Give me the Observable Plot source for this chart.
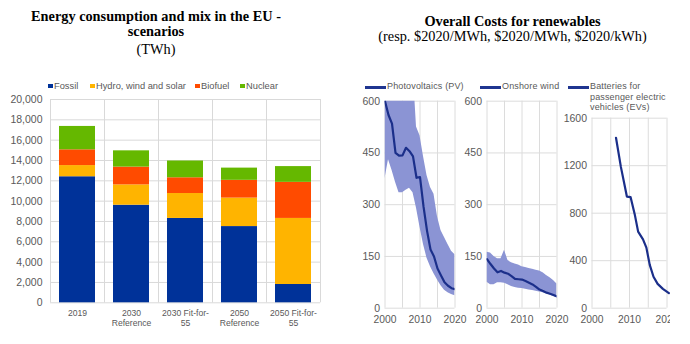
<!DOCTYPE html>
<html><head><meta charset="utf-8">
<script src="https://cdn.jsdelivr.net/npm/d3@7"></script>
<script src="https://cdn.jsdelivr.net/npm/@observablehq/plot@0.6"></script>
<style>
body{margin:0;background:#fff;}
#root{position:relative;width:690px;height:344px;overflow:hidden;font-family:"Liberation Sans",Arial,sans-serif;background:#fff;}
.abs{position:absolute;white-space:nowrap;}
.ttl{font-family:"Liberation Serif","Times New Roman",serif;font-size:14.3px;line-height:14px;color:#000;text-align:center;}
.leg{font-size:9.3px;line-height:12px;color:#595959;}
.sq{position:absolute;width:4.5px;height:4.5px;}
.sw{position:absolute;height:2.5px;background:#1f3590;}
svg{overflow:hidden;}
</style></head><body><div id="root"></div>
<script>
// ---------- data: energy mix ----------
const scenarios = ["2019", "2030 Reference", "2030 Fit-for-55", "2050 Reference", "2050 Fit-for-55"];
const scenarioLabels = ["2019", "2030\nReference", "2030 Fit-for-\n55", "2050\nReference", "2050 Fit-for-\n55"];
const sources = ["Fossil", "Hydro, wind and solar", "Biofuel", "Nuclear"];
const sourceColors = ["#003299", "#ffb400", "#ff4b00", "#65b800"];
const fossil = [12400, 9600, 8300, 7500, 1800];
const renewables = [1100, 2000, 2450, 2800, 6500];
const biofuel = [1550, 1750, 1550, 1750, 3550];
const nuclear = [2300, 1600, 1650, 1200, 1550];
const energyTicks = [0, 2000, 4000, 6000, 8000, 10000, 12000, 14000, 16000, 18000, 20000];

// ---------- data: costs ----------
const years = [2000, 2001, 2002, 2003, 2004, 2005, 2006, 2007, 2008, 2009, 2010, 2011, 2012, 2013, 2014, 2015, 2016, 2017, 2018, 2019, 2020];
const pvCost = [600, 560, 535, 450, 442, 443, 465, 455, 440, 378, 380, 295, 225, 170, 150, 115, 95, 75, 65, 58, 55];
const pvLow  = [375, 430, 400, 365, 335, 335, 342, 348, 335, 290, 235, 185, 145, 120, 100, 82, 65, 52, 45, 40, 36];
const pvHigh = [700, 700, 700, 700, 700, 700, 700, 700, 700, 525, 500, 440, 385, 350, 330, 265, 225, 205, 185, 165, 155];
const windCost = [142, 128, 115, 104, 108, 103, 100, 93, 85, 84, 83, 79, 74, 69, 62, 54, 50, 45, 42, 38, 34];
const windLow  = [75, 68, 68, 74, 74, 72, 68, 63, 60, 58, 57, 55, 53, 51, 49, 47, 45, 42, 38, 34, 30];
const windHigh = [162, 160, 150, 143, 143, 168, 138, 132, 128, 125, 120, 118, 115, 113, 110, 108, 103, 95, 88, 80, 70];
const batteryYears = [2006.4, 2007.7, 2008.6, 2009.3, 2010.3, 2011.4, 2012.3, 2013.6, 2014.5, 2015.4, 2016.4, 2017.5, 2018.9, 2020.5];
const batteryCost = [1435, 1190, 1050, 940, 935, 790, 645, 580, 510, 365, 265, 205, 163, 127];
const yearTicks = [2000, 2010, 2020];
const yearGrid = [2000, 2005, 2010, 2015, 2020];
const pvTicks = [0, 150, 300, 450, 600];
const batteryTicks = [0, 400, 800, 1200, 1600];

const root = document.getElementById("root");
function addDiv(cls, css, html) {
  const d = document.createElement("div");
  d.className = cls;
  d.style.cssText = css;
  d.innerHTML = html;
  root.appendChild(d);
  return d;
}
function place(node, left, top) {
  node.style.position = "absolute";
  node.style.left = left + "px";
  node.style.top = top + "px";
  root.appendChild(node);
}

// ---------- titles ----------
addDiv("abs ttl", "left:0;width:312px;top:8.5px;font-weight:bold;", "Energy consumption and mix in the EU -");
addDiv("abs ttl", "left:0;width:312px;top:23.5px;font-weight:bold;", "scenarios");
addDiv("abs ttl", "left:0;width:312px;top:41.5px;", "(TWh)");
addDiv("abs ttl", "left:345px;width:335px;top:13.5px;font-weight:bold;", "Overall Costs for renewables");
addDiv("abs ttl", "left:345px;width:335px;top:28.5px;", "(resp. $2020/MWh, $2020/MWh, $2020/kWh)");

// ---------- left legend ----------
const legX = [48, 90, 195, 240];
sources.forEach((s, i) => {
  const d = addDiv("abs leg", `left:${legX[i]}px;top:80px;padding-left:6px;`, s);
  const q = document.createElement("div");
  q.className = "sq";
  q.style.cssText = `left:0;top:3.8px;background:${sourceColors[i]};`;
  d.appendChild(q);
});

// ---------- left chart ----------
const series = [fossil, renewables, biofuel, nuclear];
const rows = [];
scenarios.forEach((sc, i) => series.forEach((arr, j) => rows.push({scenario: sc, source: sources[j], value: arr[i]})));

const left = Plot.plot({
  width: 345, height: 245,
  marginLeft: 50, marginRight: 25, marginTop: 9, marginBottom: 32.7,
  style: {background: "transparent", fontFamily: "Liberation Sans, Arial, sans-serif", color: "#595959", overflow: "hidden"},
  x: {type: "band", domain: scenarios, paddingInner: 1/3, paddingOuter: 1/6},
  y: {domain: [0, 20000]},
  color: {domain: sources, range: sourceColors},
  marks: [
    Plot.ruleY(energyTicks, {stroke: "#d9d9d9", strokeWidth: 1}),
    Plot.ruleX(scenarios, {x: d => d, dx: -27, stroke: "#d9d9d9"}),
    Plot.ruleX(scenarios, {x: d => d, dx: 27, stroke: "#d9d9d9"}),
    Plot.barY(rows, {x: "scenario", y: "value", fill: "source"}),
    Plot.axisY({ticks: energyTicks, tickFormat: d3.format(","), tickSize: 0, tickPadding: 8, fontSize: 10.5, label: null, fill: "#595959"}),
    Plot.axisX({tickFormat: d => scenarioLabels[scenarios.indexOf(d)], tickSize: 0, tickPadding: 6, fontSize: 8.6, lineHeight: 1.2, label: null, fill: "#595959"})
  ]
});
place(left, 0, 90);

// ---------- right legends ----------
function lineLegend(x, width, label, textLeft) {
  const s = document.createElement("div");
  s.className = "sw";
  s.style.left = x + "px";
  s.style.top = "86px";
  s.style.width = width + "px";
  root.appendChild(s);
  addDiv("abs leg", `left:${textLeft}px;top:81px;font-size:9px;line-height:10.5px;letter-spacing:0.15px;`, label);
}
lineLegend(365, 21, "Photovoltaics (PV)", 387);
lineLegend(480, 21, "Onshore wind", 502);
lineLegend(568, 21, "Batteries for<br>passenger electric<br>vehicles (EVs)", 590);

// ---------- right panels ----------
function panel({data, yDomain, yTicks, marginTop, width, marginRight, withBand, xKey}) {
  return Plot.plot({
    width, height: 235,
    marginLeft: 39.5, marginRight, marginTop, marginBottom: 22.3,
    style: {background: "transparent", fontFamily: "Liberation Sans, Arial, sans-serif", color: "#595959", overflow: "hidden"},
    x: {domain: [2000, 2020]},
    y: {domain: yDomain},
    marks: [
      Plot.ruleY(yTicks, {stroke: "#dcdcdc"}),
      Plot.ruleX(yearGrid, {stroke: "#dcdcdc"}),
      withBand ? Plot.areaY(data, {x: xKey, y1: "low", y2: "high", fill: "#8b94d4", clip: true}) : null,
      Plot.lineY(data, {x: xKey, y: "cost", stroke: "#1b2f8a", strokeWidth: 2.2, clip: withBand}),
      Plot.axisY({ticks: yTicks, tickFormat: d => String(d), tickSize: 0, tickPadding: 5, fontSize: 10.5, label: null, fill: "#595959"}),
      Plot.axisX({ticks: yearTicks, tickFormat: d => String(d), tickSize: 0, tickPadding: 7, fontSize: 10.3, label: null, fill: "#595959"})
    ]
  });
}
const pvRows = years.map((y, i) => ({year: y, cost: pvCost[i], low: pvLow[i], high: pvHigh[i]}));
const windRows = years.map((y, i) => ({year: y, cost: windCost[i], low: windLow[i], high: windHigh[i]}));
const batRows = batteryYears.map((y, i) => ({year: y, cost: batteryCost[i]}));

place(panel({data: pvRows, yDomain: [0, 600], yTicks: pvTicks, marginTop: 5.7, width: 125, marginRight: 15.5, withBand: true, xKey: "year"}), 345, 95);
place(panel({data: windRows, yDomain: [0, 600], yTicks: pvTicks, marginTop: 5.7, width: 125, marginRight: 15.5, withBand: true, xKey: "year"}), 447, 95);
place(panel({data: batRows, yDomain: [0, 1600], yTicks: batteryTicks, marginTop: 22.7, width: 118, marginRight: 3.5, withBand: false, xKey: "year"}), 552, 95);
</script>
</body></html>
